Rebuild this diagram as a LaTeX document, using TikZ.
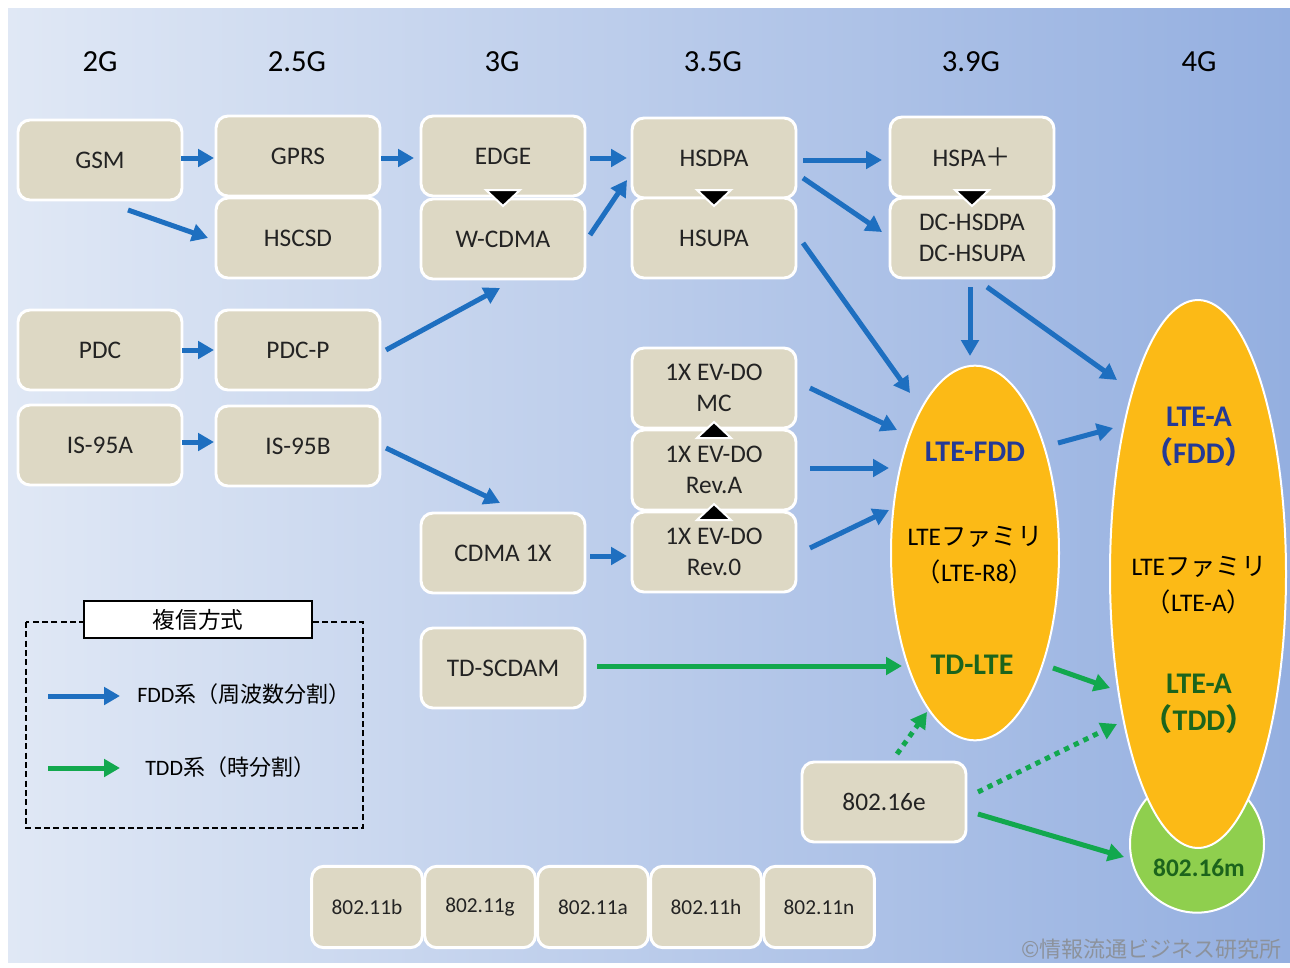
\documentclass[tikz,border=0pt]{standalone}
\usepackage{fontspec}
\setmainfont{Carlito}
\newfontfamily\cjk{Noto Sans CJK JP}
\usetikzlibrary{arrows.meta,shapes.geometric}
\definecolor{bgL}{RGB}{224,232,245}
\definecolor{bgR}{RGB}{148,175,224}
\definecolor{beige}{RGB}{221,216,196}
\definecolor{fddblue}{RGB}{30,111,192}
\definecolor{tddgreen}{RGB}{18,168,78}
\definecolor{gold}{RGB}{252,186,22}
\definecolor{lgreen}{RGB}{143,207,78}
\definecolor{txtblue}{RGB}{36,58,150}
\definecolor{txtgreen}{RGB}{28,100,28}
\definecolor{boxtxt}{RGB}{35,35,35}
\definecolor{copygray}{RGB}{140,146,156}
\begin{document}
\begin{tikzpicture}[x=0.75pt,y=-0.75pt,
  box/.style={draw=white, line width=2.2pt, fill=beige, rounded corners=9pt,
    minimum width=123pt, minimum height=60pt, inner sep=0pt, align=center,
    text=boxtxt, font=\fontsize{19}{23.5}\selectfont},
  wbox/.style={box, minimum width=83pt, minimum height=61pt, font=\fontsize{16}{19}\selectfont},
  hdr/.style={font=\fontsize{23}{27}\selectfont, text=black, inner sep=0pt},
  fdd/.style={draw=fddblue, line width=3.75pt, -{Triangle[length=12pt,width=13pt]}},
  tdd/.style={draw=tddgreen, line width=3.75pt, -{Triangle[length=12pt,width=13pt]}},
  tddot/.style={tdd, dash pattern=on 4pt off 4pt},
  tri/.style={fill=black, draw=white, line width=1.5pt, line join=miter},
  ell/.style={ellipse, draw=white, line width=1.5pt, inner sep=0pt},
  etxt/.style={align=center, inner sep=0pt, font=\fontsize{22.5}{28}\selectfont\bfseries},
  ftxt/.style={align=center, inner sep=0pt, font=\fontsize{19}{27}\selectfont, text=black},
  ltxt/.style={anchor=west, inner sep=0pt, font=\fontsize{16.5}{20}\selectfont, text=black}
]
\useasboundingbox (0,0) rectangle (1290,968);
\fill[white] (0,0) rectangle (1290,968);
\shade[left color=bgL, right color=bgR] (8,8) rectangle (1290,962);

% headers
\node[hdr] (h2) at (100,62) {2G};
\node[hdr] (h25) at (297,62) {2.5G};
\node[hdr] (h3) at (502,62) {3G};
\node[hdr] (h35) at (713,62) {3.5G};
\node[hdr] (h39) at (971,62) {3.9G};
\node[hdr] (h4) at (1199,62) {4G};

% ellipses
\node[ell, fill=lgreen, minimum width=100.5pt, minimum height=103pt] (m16) at (1197,844) {};
\node[ell, fill=gold, minimum width=132pt, minimum height=411pt] (lte4g) at (1198,574) {};
\node[ell, fill=gold, minimum width=126pt, minimum height=281pt] (lfdd) at (975,553) {};

% boxes
\node[box] (gsm) at (100,160) {GSM};
\node[box] (gprs) at (298,156) {GPRS};
\node[box] (hscsd) at (298,238) {HSCSD};
\node[box] (edge) at (503,156) {EDGE};
\node[box] (wcdma) at (503,239) {W-CDMA};
\node[box] (hsdpa) at (714,158) {HSDPA};
\node[box] (hsupa) at (714,238) {HSUPA};
\node[box] (hspa) at (972,157) {HSPA{\cjk ＋}};
\node[box] (dc) at (972,238) {DC-HSDPA\\DC-HSUPA};
\node[box] (pdc) at (100,350) {PDC};
\node[box] (pdcp) at (298,350) {PDC-P};
\node[box] (is95a) at (100,445) {IS-95A};
\node[box] (is95b) at (298,446) {IS-95B};
\node[box] (cdma) at (503,553) {CDMA 1X};
\node[box] (mc) at (714,388) {1X EV-DO\\MC};
\node[box] (reva) at (714,470) {1X EV-DO\\Rev.A};
\node[box] (rev0) at (714,552) {1X EV-DO\\Rev.0};
\node[box] (tdscdam) at (503,668) {TD-SCDAM};
\node[box] (e16) at (884,802) {802.16e};
\node[wbox] (w11b) at (367,907) {802.11b};
\node[wbox] (w11g) at (480,907) {802.11g};
\node[wbox] (w11a) at (593,907) {802.11a};
\node[wbox] (w11h) at (706,907) {802.11h};
\node[wbox] (w11n) at (819,907) {802.11n};

% triangles
\draw[tri] (486,190) -- (520,190) -- (503,206) -- cycle;
\draw[tri] (697,190) -- (731,190) -- (714,206) -- cycle;
\draw[tri] (955,190) -- (989,190) -- (972,206) -- cycle;
\draw[tri] (697,438) -- (731,438) -- (714,422) -- cycle;
\draw[tri] (697,520) -- (731,520) -- (714,504) -- cycle;

% FDD arrows
\draw[fdd] ([shift={(81,-2)}]gsm.center) -- ([shift={(-84,2)}]gprs.center);
\draw[fdd] ([shift={(28,50)}]gsm.center) -- ([shift={(-90,0)}]hscsd.center);
\draw[fdd] ([shift={(83,2)}]gprs.center) -- ([shift={(-89,2)}]edge.center);
\draw[fdd] ([shift={(87,2)}]edge.center) -- ([shift={(-87,0)}]hsdpa.center);
\draw[fdd] ([shift={(87,-4)}]wcdma.center) -- ([shift={(-87,22)}]hsdpa.center);
\draw[fdd] ([shift={(82,0)}]pdc.center) -- ([shift={(-84,0)}]pdcp.center);
\draw[fdd] ([shift={(88,0)}]pdcp.center) -- ([shift={(-3,49)}]wcdma.center);
\draw[fdd] ([shift={(82,-3)}]is95a.center) -- ([shift={(-84,-4)}]is95b.center);
\draw[fdd] ([shift={(88,2)}]is95b.center) -- ([shift={(-3,-50)}]cdma.center);
\draw[fdd] ([shift={(87,3)}]cdma.center) -- ([shift={(-87,4)}]rev0.center);
\draw[fdd] ([shift={(89,2)}]hsdpa.center) -- ([shift={(-90,3)}]hspa.center);
\draw[fdd] ([shift={(89,20)}]hsdpa.center) -- ([shift={(-90,-6)}]dc.center);
\draw[fdd] ([shift={(89,5)}]hsupa.center) -- ([shift={(-65,-160)}]lfdd.center);
\draw[fdd] ([shift={(-2,49)}]dc.center) -- ([shift={(-5,-197)}]lfdd.center);
\draw[fdd] ([shift={(15,49)}]dc.center) -- ([shift={(-81,-194)}]lte4g.center);
\draw[fdd] ([shift={(96,0)}]mc.center) -- ([shift={(-78,-123)}]lfdd.center);
\draw[fdd] ([shift={(96,-2)}]reva.center) -- ([shift={(-86,-85)}]lfdd.center);
\draw[fdd] ([shift={(96,-4)}]rev0.center) -- ([shift={(-86,-43)}]lfdd.center);
\draw[fdd] ([shift={(83,-110)}]lfdd.center) -- ([shift={(-85,-146)}]lte4g.center);

% TDD arrows
\draw[tdd] ([shift={(94,-2)}]tdscdam.center) -- ([shift={(-73,113)}]lfdd.center);
\draw[tdd] ([shift={(78,115)}]lfdd.center) -- ([shift={(-88,114)}]lte4g.center);
\draw[tddot] ([shift={(13,-48)}]e16.center) -- ([shift={(-48,159)}]lfdd.center);
\draw[tddot] ([shift={(94,-10)}]e16.center) -- ([shift={(-81,150)}]lte4g.center);
\draw[tdd] ([shift={(94,12)}]e16.center) -- ([shift={(-73,13)}]m16.center);

% ellipse texts
\node[etxt, text=txtblue] (tfdd) at (975,452) {LTE-FDD};
\node[ftxt] (tfam1) at (975,555) {LTE{\cjk ファミリ}\\{\cjk （}LTE-R8{\cjk ）}};
\node[etxt, text=txtgreen] (ttdlte) at (972,665) {TD-LTE};
\node[etxt, text=txtblue] (tltea) at (1199,437) {LTE-A\\{\cjk\bfseries （}FDD{\cjk\bfseries ）}};
\node[ftxt] (tfam2) at (1199,585) {LTE{\cjk ファミリ}\\{\cjk （}LTE-A{\cjk ）}};
\node[etxt, text=txtgreen] (tltet) at (1199,704) {LTE-A\\{\cjk\bfseries （}TDD{\cjk\bfseries ）}};
\node[etxt, text=txtgreen, font=\fontsize{19}{23}\selectfont\bfseries] (t16m) at (1199,868) {802.16m};

% legend
\draw[black, dash pattern=on 4.5pt off 2.5pt, line width=1.6pt] (26,622) rectangle (363,828);
\node[draw=black, fill=white, line width=1.6pt, minimum width=171pt, minimum height=28pt, inner sep=0pt,
  font=\fontsize{17}{20}\selectfont\cjk] (ltitle) at (198,619.5) {複信方式};
\coordinate (lfa) at (48,696);
\coordinate (lta) at (48,768);
\node[ltxt] (lfddt) at (137,694) {FDD{\cjk 系（周波数分割）}};
\node[ltxt] (ltddt) at (145,767) {TDD{\cjk 系（時分割）}};
\draw[fdd] (lfa) -- ([xshift=-12.75pt]lfddt.west |- lfa);
\draw[tdd] (lta) -- ([xshift=-18.75pt]ltddt.west |- lta);

% copyright
\node[anchor=east, inner sep=0pt, text=copygray, font=\fontsize{16.5}{20}\selectfont\cjk] (copy) at (1282,949) {©情報流通ビジネス研究所};
\end{tikzpicture}
\end{document}
